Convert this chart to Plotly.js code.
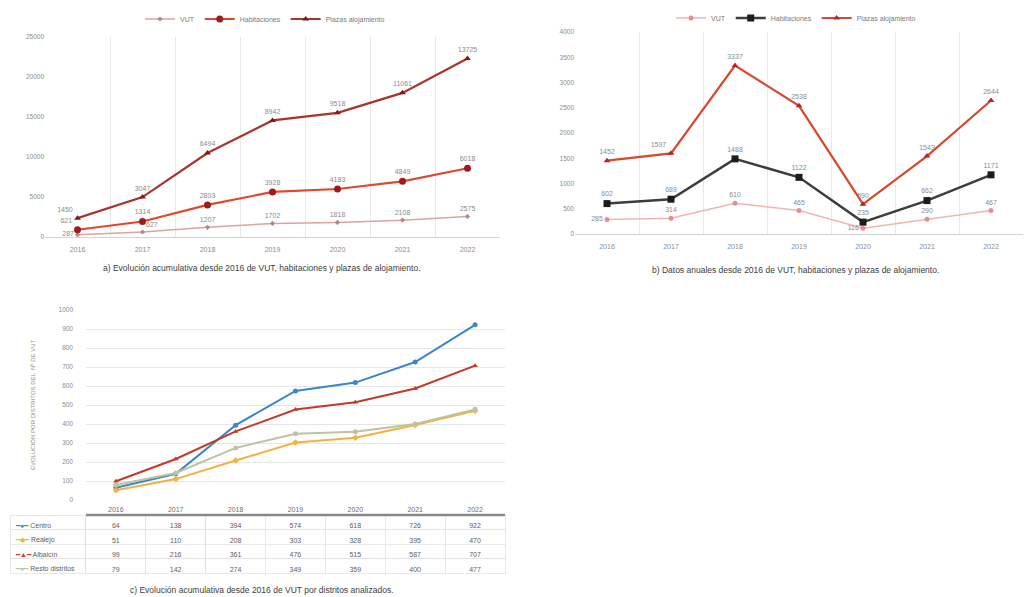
<!DOCTYPE html>
<html><head><meta charset="utf-8">
<script src="https://cdn.plot.ly/plotly-3.0.1.min.js"></script>
<style>html,body{margin:0;padding:0;background:#fff}#chart{width:1025px;height:597px}</style>
</head><body><div id="chart"></div>
<script>
// ---- data ----
const years = ['2016','2017','2018','2019','2020','2021','2022'];
// a) cumulative (drawn stacked, labels show own values)
const vutCum    = [287, 627, 1207, 1702, 1818, 2108, 2575];
const habCum    = [621, 1314, 2803, 3928, 4183, 4849, 6018];
const plazasCum = [1450, 3047, 6494, 8942, 9518, 11061, 13725];
// b) annual
const vutYr    = [285, 314, 610, 465, 116, 290, 467];
const habYr    = [602, 689, 1488, 1122, 235, 662, 1171];
const plazasYr = [1452, 1597, 3337, 2538, 590, 1543, 2644];
// c) cumulative by district
const districts = ['Centro', 'Realejo', 'Albaicín', 'Resto distritos'];
const centro   = [64, 138, 394, 574, 618, 726, 922];
const realejo  = [51, 110, 208, 303, 328, 395, 470];
const albaicin = [99, 216, 361, 476, 515, 587, 707];
const resto    = [79, 142, 274, 349, 359, 400, 477];
const seriesNames = ['VUT', 'Habitaciones', 'Plazas alojamiento'];

// ---- layout helpers (pixel -> paper) ----
const W = 1025, H = 597;
const X = p => p / W;
const Y = p => 1 - p / H;

const FONT = 'Liberation Sans, Arial, sans-serif';
const lblFont = {family: FONT, size: 7, color: '#8c8c8c'};
// label positions: default 'top center', with a few overrides by index
const posWith = (n, over) => Array.from({length: n}, (_, i) => over[i] || 'top center');

const traces = [];
// ---- chart a ----
const aStyle = [
  {line: {color: '#dba3a3', width: 1.5}, marker: {color: '#b98585', size: 4, symbol: 'diamond'}},
  {line: {color: '#e2472c', width: 2.2}, marker: {color: '#9e1b1b', size: 7, symbol: 'circle'}},
  {line: {color: '#a8352c', width: 2.2}, marker: {color: '#7e1a1a', size: 6, symbol: 'triangle-up'}}
];
const aPos = [{0: 'middle left', 1: 'top right'}, {0: 'top left'}, {0: 'top left'}];
[vutCum, habCum, plazasCum].forEach((vals, i) => {
  traces.push(Object.assign({
    type: 'scatter', x: years, y: vals, name: seriesNames[i],
    stackgroup: 'a', fill: 'none', mode: 'lines+markers+text',
    text: vals.map(String), textposition: posWith(vals.length, aPos[i]), textfont: lblFont,
    cliponaxis: false, xaxis: 'x', yaxis: 'y', legend: 'legend', hoverinfo: 'skip'
  }, aStyle[i]));
});
// ---- chart b ----
const bStyle = [
  {line: {color: '#f3b3b3', width: 1.5}, marker: {color: '#e88e8e', size: 5, symbol: 'circle'}},
  {line: {color: '#3d3d3d', width: 2.5}, marker: {color: '#1c1c1c', size: 7, symbol: 'square'}},
  {line: {color: '#d6492f', width: 2.2}, marker: {color: '#b8232a', size: 6, symbol: 'triangle-up'}}
];
const bPos = [{0: 'middle left', 4: 'middle left'}, {}, {1: 'top left'}];
[vutYr, habYr, plazasYr].forEach((vals, i) => {
  traces.push(Object.assign({
    type: 'scatter', x: years, y: vals, name: seriesNames[i],
    mode: 'lines+markers+text',
    text: vals.map(String), textposition: posWith(vals.length, bPos[i]), textfont: lblFont,
    cliponaxis: false, xaxis: 'x2', yaxis: 'y2', legend: 'legend2', hoverinfo: 'skip'
  }, bStyle[i]));
});
// ---- chart c ----
const cVals = [centro, realejo, albaicin, resto];
const cColors = ['#3b86c6', '#f5b041', '#c4392a', '#bcc3a3'];
const cSymbols = ['circle', 'diamond', 'triangle-up', 'circle'];
const cKeys = ['●', '◆', '▲', '●'];
cVals.forEach((vals, i) => {
  traces.push({
    type: 'scatter', x: years, y: vals, name: districts[i], mode: 'lines+markers',
    line: {color: cColors[i], width: 2}, marker: {color: cColors[i], size: 5, symbol: cSymbols[i]},
    xaxis: 'x3', yaxis: 'y3', showlegend: false, hoverinfo: 'skip'
  });
});
// table under chart c
const cols = [districts.map(() => '')].concat(years.map((_, j) => cVals.map(v => String(v[j]))));
const ROW_TOP = 515, ROW_H = 14.5, HEAD_H = 16;
traces.push({
  type: 'table',
  domain: {x: [X(10), X(505)], y: [Y(580), Y(ROW_TOP - HEAD_H)]},
  columnwidth: [76].concat(years.map(() => 60)),
  header: {values: [''].concat(years), height: HEAD_H, align: 'center',
           font: {family: FONT, size: 7, color: '#707070'},
           line: {width: 0, color: 'rgba(0,0,0,0)'}, fill: {color: 'rgba(0,0,0,0)'}},
  cells: {values: cols, height: ROW_H, align: ['left', 'center'],
          font: {family: FONT, size: 7, color: '#606060'},
          line: {width: 0.7, color: '#e0e0e0'}, fill: {color: '#ffffff'}}
});

const axX = {type: 'category', range: [-0.5, 6.5], showgrid: true, tickson: 'boundaries',
  gridcolor: '#e8e8e8', ticks: '', showline: true, linecolor: '#d4d4d4', linewidth: 1,
  tickfont: {family: FONT, size: 7, color: '#8c8c8c'}, zeroline: false, fixedrange: true};
const axY = {showgrid: false, zeroline: false, ticks: '', showline: false, tickformat: 'd',
  tickfont: {family: FONT, size: 6.5, color: '#8c8c8c'}, fixedrange: true};

const legendBase = {orientation: 'h', xanchor: 'center', yanchor: 'middle',
  font: {family: FONT, size: 7, color: '#7a7a7a'}, bgcolor: 'rgba(0,0,0,0)', itemwidth: 30};

const capFont = {family: FONT, size: 8.5, color: '#404040'};
const annotations = [
  {xref: 'paper', yref: 'paper', x: X(262), y: Y(268), text: 'a) Evolución acumulativa desde 2016 de VUT, habitaciones y plazas de alojamiento.',
   showarrow: false, font: capFont, xanchor: 'center', yanchor: 'middle'},
  {xref: 'paper', yref: 'paper', x: X(795), y: Y(270), text: 'b) Datos anuales desde 2016 de VUT, habitaciones y plazas de alojamiento.',
   showarrow: false, font: capFont, xanchor: 'center', yanchor: 'middle'},
  {xref: 'paper', yref: 'paper', x: X(262), y: Y(590), text: 'c) Evolución acumulativa desde 2016 de VUT por distritos analizados.',
   showarrow: false, font: capFont, xanchor: 'center', yanchor: 'middle'},
  {xref: 'paper', yref: 'paper', x: X(33), y: Y(405), text: 'EVOLUCIÓN POR DISTRITOS DEL  Nº DE VUT',
   textangle: -90, showarrow: false, font: {family: FONT, size: 6, color: '#8c8c8c'},
   xanchor: 'center', yanchor: 'middle'}
];
// legend keys in the table's first column
districts.forEach((d, i) => {
  annotations.push({xref: 'paper', yref: 'paper', x: X(13), y: Y(ROW_TOP + 3 + ROW_H * (i + 0.5)),
    xanchor: 'left', yanchor: 'middle', showarrow: false,
    font: {family: FONT, size: 7, color: '#606060'},
    text: '<span style="color:' + cColors[i] + '">━' + cKeys[i] + '━</span> ' + d});
});

const layout = {
  width: W, height: H, margin: {l: 0, r: 0, t: 0, b: 0},
  paper_bgcolor: '#ffffff', plot_bgcolor: '#ffffff',
  font: {family: FONT},
  xaxis: Object.assign({}, axX, {domain: [X(45), X(500)], anchor: 'y', ticklabelstandoff: 6}),
  yaxis: Object.assign({}, axY, {domain: [Y(237), Y(37)], range: [0, 25000], dtick: 5000, anchor: 'x'}),
  xaxis2: Object.assign({}, axX, {domain: [X(575), X(1023)], anchor: 'y2', ticklabelstandoff: 6}),
  yaxis2: Object.assign({}, axY, {domain: [Y(234), Y(32)], range: [0, 4000], dtick: 500, anchor: 'x2'}),
  xaxis3: Object.assign({}, axX, {domain: [X(86), X(505)], anchor: 'y3', showgrid: false,
    showticklabels: false, showline: false}),
  yaxis3: Object.assign({}, axY, {domain: [Y(500), Y(310)], range: [0, 1000], dtick: 100, anchor: 'x3',
    showgrid: true, gridcolor: '#e6e6e6', ticklabelstandoff: 12}),
  showlegend: true,
  legend: Object.assign({}, legendBase, {x: X(265), y: Y(19)}),
  legend2: Object.assign({}, legendBase, {x: X(796), y: Y(18)}),
  shapes: [
    {type: 'line', xref: 'paper', yref: 'paper', x0: X(86), x1: X(505), y0: Y(ROW_TOP), y1: Y(ROW_TOP),
     line: {color: '#8a8a8a', width: 2.5}}
  ],
  annotations: annotations
};
Plotly.newPlot('chart', traces, layout, {staticPlot: true, displayModeBar: false});
</script></body></html>
